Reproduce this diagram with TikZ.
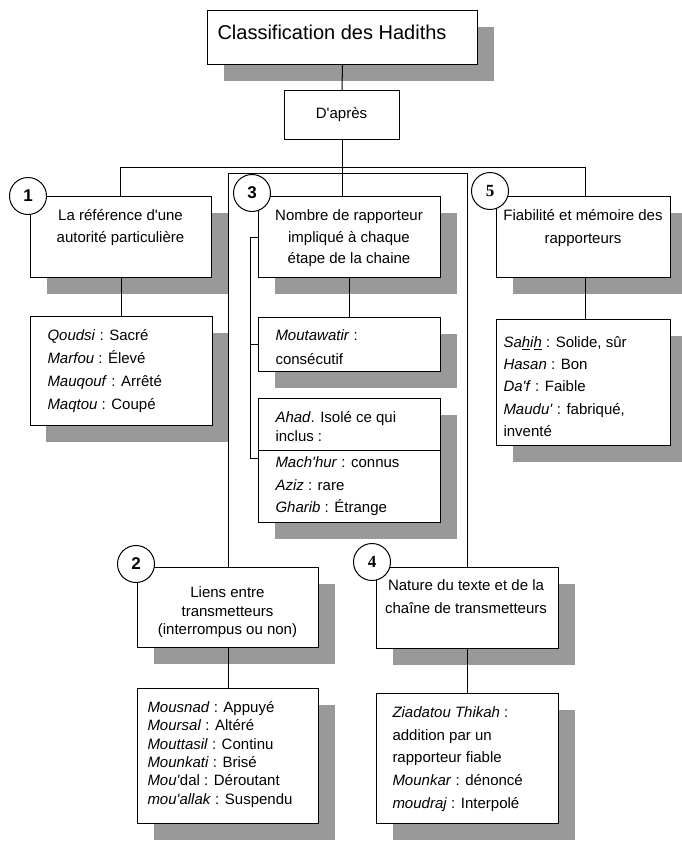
\documentclass[tikz,border=0pt]{standalone}
\usepackage{fontspec}
\setmainfont{Liberation Sans}[Ligatures={TeXOff,CommonOff}]
\newfontfamily\numserif{Liberation Serif}
\usetikzlibrary{shadows}
\definecolor{shade}{RGB}{153,153,153}
\newcommand{\fl}{\rule{0pt}{14.5pt}}
\newcommand{\fsz}[1]{\fontsize{15}{#1}\selectfont}
\begin{document}
\begin{tikzpicture}[x=1pt,y=-1pt,line width=1pt,
  box/.style={draw=black,fill=white,rectangle,inner sep=0pt,anchor=north west,
    drop shadow={shadow xshift=16pt,shadow yshift=-16pt,fill=shade,opacity=1,draw=none}},
  plainbox/.style={draw=black,fill=white,rectangle,inner sep=0pt,anchor=north west},
  ctxt/.style={anchor=north,inner sep=0pt,align=center},
  ltxt/.style={anchor=north west,inner sep=0pt,align=left},
  num/.style={circle,draw=black,fill=white,minimum size=37pt,inner sep=0pt,
    font=\fontsize{17}{17}\selectfont\bfseries}]
\useasboundingbox (0,0) rectangle (682,841);

% boxes
\node[box,minimum width=270pt,minimum height=54pt] (title) at (207,10) {};
\node[plainbox,minimum width=115pt,minimum height=49pt] (dapres) at (284,90) {};
\node[box,minimum width=181pt,minimum height=81pt] (box1) at (30,196) {};
\node[box,minimum width=182pt,minimum height=109pt] (box1b) at (29.5,316) {};
\node[box,minimum width=182pt,minimum height=81pt] (box3) at (258,196) {};
\node[box,minimum width=182pt,minimum height=54pt] (mout) at (258,317) {};
\node[box,minimum width=182pt,minimum height=124pt] (ahad) at (258,398) {};
\node[box,minimum width=174pt,minimum height=81pt] (box5) at (496,196) {};
\node[box,minimum width=174pt,minimum height=126pt] (box5b) at (496,319) {};
\node[box,minimum width=181pt,minimum height=80pt] (box2) at (137,567) {};
\node[box,minimum width=181pt,minimum height=135pt] (box2b) at (137,688) {};
\node[box,minimum width=182pt,minimum height=81pt] (box4) at (376,567) {};
\node[box,minimum width=182pt,minimum height=130pt] (box4b) at (376,693) {};

% texts
\node[anchor=base west,inner sep=0pt,font=\fontsize{20}{24}\selectfont] (titlet) at (217,39) {Classification des Hadiths};
\node[anchor=base,inner sep=0pt,font=\fsz{18}] (dapt) at (341.5,118) {D'après};
\node[ctxt,font=\fsz{22}] (box1t) at (120.5,205.5) {\fl La référence d'une\\autorité particulière};
\node[ltxt,font=\fsz{23}] (box1bt) at (47,325.5) {\fl\textit{Qoudsi} : Sacré\\\textit{Marfou} : Élevé\\\textit{Mauqouf} : Arrêté\\\textit{Maqtou} : Coupé};
\node[ctxt,font=\fsz{21.5}] (box3t) at (349,205.5) {\fl Nombre de rapporteur\\impliqué à chaque\\étape de la chaine};
\node[ltxt,font=\fsz{24}] (moutt) at (275,325.5) {\fl\textit{Moutawatir} :\\consécutif};
\node[ltxt,font=\fsz{19}] (ahadt) at (275,407.5) {\fl\textit{Ahad}. Isolé ce qui\\inclus :};
\node[ltxt,font=\fsz{22.5}] (ahadt2) at (275,452.5) {\fl\textit{Mach'hur} : connus\\\textit{Aziz} : rare\\\textit{Gharib} : Étrange};
\node[ctxt,font=\fsz{23}] (box5t) at (583,205.5) {\fl Fiabilité et mémoire des\\rapporteurs};
\node[ltxt,font=\fsz{22.2}] (box5bt) at (503,332.5) {\fl\textit{Sa\underline{h}i\underline{h}} : Solide, sûr\\\textit{Hasan} : Bon\\\textit{Da'f} : Faible\\\textit{Maudu'} : fabriqué,\\inventé};
\node[ctxt,font=\fsz{18.5}] (box2t) at (227.5,582.5) {\fl Liens entre\\transmetteurs\\(interrompus ou non)};
\node[ltxt,font=\fsz{18.3}] (box2bt) at (147,697.5) {\fl\textit{Mousnad} : Appuyé\\\textit{Moursal} : Altéré\\\textit{Mouttasil} : Continu\\\textit{Mounkati} : Brisé\\\textit{Mou'}dal : Déroutant\\\textit{mou'allak} : Suspendu};
\node[ctxt,font=\fsz{23}] (box4t) at (466,575.5) {\fl Nature du texte et de la\\chaîne de transmetteurs};
\node[ltxt,font=\fsz{22.7}] (box4bt) at (392,702.5) {\fl\textit{Ziadatou Thikah} :\\addition par un\\rapporteur fiable\\\textit{Mounkar} : dénoncé\\\textit{moudraj} : Interpolé};

% connectors
\coordinate (busL) at (120.5,167);
\coordinate (busR) at (585,167);
\coordinate (frameY) at (0,173);
\draw (title.south) -- (dapres.north);
\draw (dapres.south) -- (dapres.south |- box3.north);
\draw (busL |- box1.north) -- (busL) -- (busR) -- (busR |- box5.north);
\draw (box2.north) -- (box2.north |- frameY) -- (box4.north |- frameY) -- (box4.north);
\draw (box1.south) -- (box1b.north);
\draw (box3.south) -- (mout.north);
\draw (busR |- box5.south) -- (busR |- box5b.north);
\draw (box2.south) -- (box2b.north);
\draw (box4.south) -- (box4b.north);
\draw (box3.west) -- ++(-8,0) |- ([yshift=2pt]ahad.west);
\draw (mout.west) -- ++(-8,0);
\draw ([yshift=-52pt]ahad.north west) -- ([yshift=-52pt]ahad.north east);

% numbered circles
\node[num] (n1) at (28,196) {1};
\node[num] (n3) at (252,193) {3};
\node[num,font=\fontsize{17}{17}\selectfont\numserif\bfseries] (n5) at (490,191) {5};
\node[num] (n2) at (136,564) {2};
\node[num,font=\fontsize{17}{17}\selectfont\numserif\bfseries] (n4) at (372,562) {4};
\end{tikzpicture}
\end{document}
